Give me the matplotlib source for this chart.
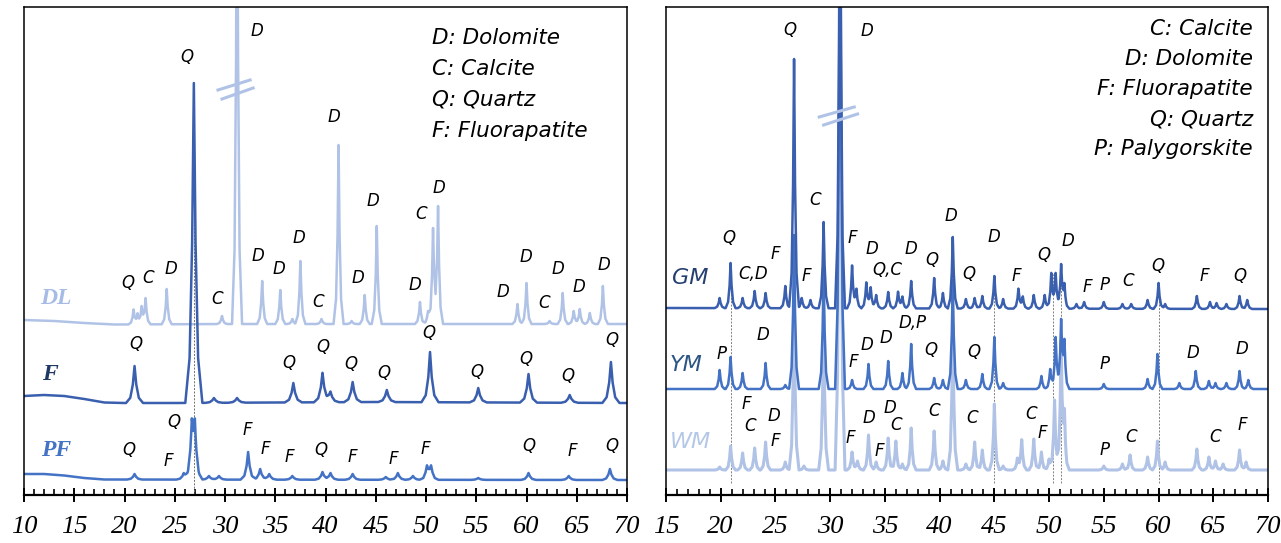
#! /usr/bin/env python

# Numerical helpers
import numpy as np

# Plotting (no display available)
import matplotlib
matplotlib.use('Agg')
import matplotlib.pyplot as plt
from matplotlib.ticker import MultipleLocator

# ---------------------------------------------------------------
# Data: peak positions (2theta) and peak tops
# (intensity, arbitrary units), plus a few baseline points per trace
# ---------------------------------------------------------------

# Left panel - DL
dl_base_x = [10, 13, 16, 19, 30, 70]
dl_base_y = [175, 174, 172, 170.5, 171, 171]
dl_pos = [20.9, 21.3, 21.7, 22.1, 24.2, 29.7, 31.2, 33.7, 35.5, 36.7,
          37.5, 39.6, 41.3, 42.6, 43.9, 45.1, 49.4, 50.2, 50.7, 51.2,
          59.1, 60.0, 62.3, 63.6, 64.7, 65.3, 66.3, 67.6]
dl_top = [185, 180, 187, 196, 206, 179, 700, 214, 205, 176,
          234, 176, 350, 174, 200, 269, 193, 184, 267, 289,
          191, 212, 174, 202, 184, 186, 182, 209]

# Left panel - F
f_base_x = [10, 12, 14, 16, 18, 20, 25, 45, 70]
f_base_y = [99, 100, 99, 96, 92.5, 92, 92, 93, 92]
f_pos = [21.0, 26.9, 28.9, 31.2, 36.8, 39.7, 40.5, 42.7, 46.1, 50.4,
         55.2, 60.2, 64.3, 68.4]
f_top = [129, 412, 97, 97, 112, 122, 103, 113, 105, 143,
         107, 121, 100, 133]

# Left panel - PF
pf_base_x = [10, 12, 14, 16, 18, 70]
pf_base_y = [21, 21, 19.5, 17, 15.5, 15]
pf_pos = [21.0, 25.9, 26.7, 27.0, 28.4, 29.4, 32.3, 33.5, 34.4, 36.7,
          39.7, 40.5, 42.7, 46.0, 47.2, 48.7, 50.1, 50.5, 55.2, 60.2,
          64.2, 68.3]
pf_top = [21, 22, 64, 64, 19, 19, 43, 26, 21, 19,
          23, 22, 21, 18, 22, 19, 28, 28, 17, 22,
          19, 26]

# Right panel - GM
gm_base_x = [15, 70]
gm_base_y = [187, 186]
gm_pos = [19.9, 20.9, 22.0, 23.1, 24.1, 25.9, 26.7, 27.4, 28.2, 29.4,
          30.9, 32.0, 32.4, 33.3, 33.7, 34.2, 35.3, 36.2, 36.6, 37.4,
          39.5, 40.3, 41.2, 42.4, 43.2, 43.9, 45.0, 45.8, 47.2, 47.6,
          48.6, 49.6, 50.2, 50.6, 51.1, 51.4, 52.5, 53.2, 55.0, 56.7,
          57.5, 59.0, 60.0, 60.6, 63.5, 64.7, 65.3, 66.2, 67.4, 68.1]
gm_top = [197, 232, 197, 204, 202, 209, 436, 197, 195, 273,
          700, 229, 205, 212, 207, 200, 203, 203, 198, 214,
          217, 202, 258, 196, 197, 199, 219, 196, 206, 198,
          200, 200, 221, 221, 229, 208, 191, 193, 193, 191,
          191, 195, 212, 191, 199, 193, 192, 191, 199, 195]

# Right panel - YM
ym_base_x = [15, 70]
ym_base_y = [106, 106]
ym_pos = [19.9, 20.9, 22.0, 24.1, 25.9, 26.7, 29.4, 30.9, 32.0, 33.5,
          35.3, 36.6, 37.4, 39.5, 40.3, 41.2, 42.4, 43.9, 45.0, 45.8,
          49.3, 50.1, 50.6, 51.1, 51.4, 55.0, 59.0, 59.9, 61.9, 63.4,
          64.6, 65.2, 66.2, 67.4, 68.2]
ym_top = [125, 138, 122, 132, 110, 260, 225, 700, 115, 131,
          134, 122, 151, 117, 115, 215, 115, 121, 158, 112,
          119, 126, 158, 172, 150, 111, 116, 141, 112, 124,
          114, 112, 112, 124, 115]

# Right panel - WM
wm_base_x = [15, 70]
wm_base_y = [25, 25]
wm_pos = [19.9, 20.9, 22.0, 23.1, 24.1, 25.9, 26.7, 27.6, 29.4, 30.9,
          32.0, 32.5, 33.5, 34.2, 35.3, 36.0, 36.6, 37.4, 39.5, 40.3,
          41.2, 42.4, 43.2, 43.9, 45.0, 45.8, 47.1, 47.5, 48.6, 49.3,
          50.0, 50.5, 51.1, 51.4, 55.0, 56.7, 57.4, 59.0, 59.9, 60.6,
          63.5, 64.6, 65.2, 65.9, 67.4, 68.0]
wm_top = [28, 49, 42, 47, 53, 33, 200, 29, 180, 700,
          43, 34, 60, 33, 57, 54, 31, 67, 64, 34,
          170, 31, 53, 45, 91, 29, 36, 55, 56, 43,
          36, 95, 150, 75, 29, 31, 40, 38, 54, 33,
          46, 38, 34, 31, 45, 33]

# Tick labels
left_ticks = [10, 15, 20, 25, 30, 35, 40, 45, 50, 55, 60, 65, 70]
right_ticks = [15, 20, 25, 30, 35, 40, 45, 50, 55, 60, 65, 70]

# Phase legends
left_legend = ['D: Dolomite', 'C: Calcite', 'Q: Quartz', 'F: Fluorapatite']
right_legend = ['C: Calcite', 'D: Dolomite', 'F: Fluorapatite', 'Q: Quartz',
                'P: Palygorskite']

# Peak annotations (letter, 2theta, height)
left_notes = [
    ('D', 33.2, 464), ('Q', 26.2, 438),
    ('Q', 20.3, 212), ('C', 22.3, 217), ('D', 24.6, 226), ('C', 29.2, 196),
    ('D', 33.3, 239), ('D', 35.4, 226), ('D', 37.4, 257), ('C', 39.3, 193),
    ('D', 40.8, 378), ('D', 43.2, 217), ('D', 44.7, 294), ('D', 48.9, 210),
    ('C', 49.5, 281), ('D', 51.3, 307), ('D', 57.7, 203), ('D', 59.9, 238),
    ('C', 61.8, 192), ('D', 63.1, 226), ('D', 65.2, 208), ('D', 67.7, 230),
    ('Q', 21.1, 151), ('Q', 36.4, 132), ('Q', 39.7, 148), ('Q', 42.5, 131),
    ('Q', 45.8, 122), ('Q', 50.3, 162), ('Q', 55.1, 123), ('Q', 59.9, 136),
    ('Q', 64.1, 119), ('Q', 68.5, 155),
    ('Q', 20.4, 45), ('F', 24.4, 34), ('Q', 24.9, 73), ('F', 32.2, 65),
    ('F', 34.0, 46), ('F', 36.4, 38), ('Q', 39.5, 45), ('F', 42.7, 38),
    ('F', 46.8, 36), ('F', 49.9, 46), ('Q', 60.2, 49), ('F', 64.6, 44),
    ('Q', 68.5, 49),
]
right_notes = [
    ('Q', 26.3, 465), ('D', 33.35, 464), ('C', 28.6, 295),
    ('Q', 20.75, 257), ('C,D', 22.95, 221), ('F', 25.0, 241), ('F', 27.8, 219),
    ('F', 32.0, 257), ('D', 33.8, 246), ('Q,C', 35.2, 225), ('D', 37.4, 246),
    ('Q', 39.3, 235), ('D', 41.06, 279), ('Q', 42.7, 221), ('D', 45.0, 258),
    ('F', 47.0, 219), ('Q', 49.5, 240), ('D', 51.7, 254), ('F', 53.5, 208),
    ('P', 55.1, 210), ('C', 57.2, 214), ('Q', 59.9, 229), ('F', 64.15, 219),
    ('Q', 67.4, 219),
    ('P', 20.05, 141), ('D', 23.9, 160), ('F', 32.1, 133), ('D', 33.4, 150),
    ('D', 35.1, 157), ('D,P', 37.5, 172), ('Q', 39.2, 145), ('Q', 43.1, 143),
    ('P', 55.1, 131), ('D', 63.1, 142), ('D', 67.65, 146),
    ('F', 22.3, 91), ('C', 22.7, 69), ('D', 24.85, 79), ('F', 24.95, 54),
    ('F', 31.8, 57), ('D', 33.55, 77), ('F', 34.5, 44), ('D', 35.5, 87),
    ('C', 36.05, 70), ('C', 39.45, 84), ('C', 43.0, 77), ('C', 48.35, 81),
    ('F', 49.4, 62), ('P', 55.05, 45), ('C', 57.5, 58), ('C', 65.2, 58),
    ('F', 67.7, 70),
]

# Colours
c_light = '#b0c3e6'
c_dark = '#3a5fae'
c_mid = '#4472c4'


def build_trace(base_x, base_y, pos, top, hw, x0, x1):
    """Join baseline points and peak tops into one polyline."""
    # Each peak: foot, tail, half height, top, half height, tail, foot
    offs = [-1.0, -0.5, -0.2, 0.0, 0.2, 0.5, 1.0]
    frac = [0.0, 0.14, 0.5, 1.0, 0.5, 0.14, 0.0]
    knots = list(base_x)
    for p in pos:
        knots += [p + o * hw for o in offs]
    xs = np.unique(np.clip(knots, x0, x1))
    ys = np.interp(xs, base_x, base_y)
    for p, t in zip(pos, top):
        h = t - np.interp(p, base_x, base_y)
        px = [p + o * hw for o in offs]
        ys = ys + np.interp(xs, px, [f * h for f in frac], left=0, right=0)
    return xs, ys


def style_axis(ax, ticks, x0):
    """Box, ticks and italic serif tick labels."""
    ax.set_xlim(x0, 70)
    ax.set_ylim(0, 488)
    ax.set_yticks([])
    ax.set_xticks(ticks)
    ax.set_xticklabels([str(t) for t in ticks], fontsize=19,
                       fontstyle='italic', family='Liberation Serif')
    ax.xaxis.set_minor_locator(MultipleLocator(1))
    ax.tick_params(axis='x', which='major', direction='inout', length=10,
                   width=1.4, pad=10)
    ax.tick_params(axis='x', which='minor', direction='in', length=4,
                   width=1.2)
    for s in ax.spines.values():
        s.set_linewidth(1.1)
    ax.spines['bottom'].set_linewidth(1.6)


def add_break(ax, xc, y1, y2):
    """Two parallel strokes across a clipped peak."""
    ax.plot([xc - 1.9, xc + 1.3], [y1, y1 + 10], color=c_light, lw=2.2)
    ax.plot([xc - 1.5, xc + 1.6], [y2, y2 + 11], color=c_light, lw=2.2)


note_font = dict(family='DejaVu Sans', fontstyle='italic', fontsize=12,
                 ha='center', va='center', color='black')
legend_font = dict(family='DejaVu Sans', fontstyle='italic', fontsize=15.5,
                   va='center', color='black')

fig = plt.figure(figsize=(12.81, 5.43), dpi=100)

# ------------------------- left panel ---------------------------
ax1 = fig.add_axes([24 / 1281, 48 / 543, 603 / 1281, 488 / 543])

x, y = build_trace(dl_base_x, dl_base_y, dl_pos, dl_top, 0.5, 10, 70)
ax1.plot(x, y, color=c_light, lw=1.8)
add_break(ax1, 31.2, 405, 396)

ax1.vlines(26.9, 0, 412, colors='#707070', linestyles=(0, (2, 1.5)), lw=0.7)

x, y = build_trace(f_base_x, f_base_y, f_pos, f_top, 0.85, 10, 70)
ax1.plot(x, y, color=c_dark, lw=1.8)

x, y = build_trace(pf_base_x, pf_base_y, pf_pos, pf_top, 0.75, 10, 70)
ax1.plot(x, y, color=c_mid, lw=1.8)

style_axis(ax1, left_ticks, 10)

for t, xx, yy in left_notes:
    ax1.text(xx, yy, t, **note_font)

for i, t in enumerate(left_legend):
    ax1.text(50.6, 457 - i * 31, t, ha='left', **legend_font)

sample_font = dict(family='Liberation Serif', fontstyle='italic',
                   fontweight='bold', fontsize=17, ha='center', va='center')
ax1.text(13.2, 196, 'DL', color='#a6bbe5', **sample_font)
ax1.text(12.6, 121, 'F', color='#203864', **sample_font)
ax1.text(13.2, 45, 'PF', color=c_mid, **sample_font)

# ------------------------- right panel --------------------------
ax2 = fig.add_axes([666 / 1281, 48 / 543, 602 / 1281, 488 / 543])

# Dashed guides at shared peaks
guide_x = [20.9, 45.0, 50.4, 51.1, 60.0]
guide_top = [gm_top[gm_pos.index(min(gm_pos, key=lambda p: abs(p - g)))]
             for g in guide_x]
ax2.vlines(guide_x, 12, guide_top, colors='#808080',
           linestyles=(0, (2, 1.5)), lw=0.7)

x, y = build_trace(wm_base_x, wm_base_y, wm_pos, wm_top, 0.45, 15, 70)
ax2.plot(x, y, color=c_light, lw=2.2)

x, y = build_trace(ym_base_x, ym_base_y, ym_pos, ym_top, 0.45, 15, 70)
ax2.plot(x, y, color=c_mid, lw=1.8)

x, y = build_trace(gm_base_x, gm_base_y, gm_pos, gm_top, 0.45, 15, 70)
ax2.plot(x, y, color=c_dark, lw=1.8)

add_break(ax2, 30.9, 378, 370)

style_axis(ax2, right_ticks, 15)

for t, xx, yy in right_notes:
    ax2.text(xx, yy, t, **note_font)

for i, t in enumerate(right_legend):
    ax2.text(68.6, 466 - i * 30, t, ha='right', **legend_font)

name_font = dict(family='DejaVu Sans', fontstyle='italic', fontsize=16,
                 ha='center', va='center')
ax2.text(17.2, 217, 'GM', color='#253f70', **name_font)
ax2.text(16.8, 130, 'YM', color='#2b5586', **name_font)
ax2.text(17.2, 53, 'WM', color='#b4c7e7', **name_font)

fig.savefig('out.png', dpi=100)
